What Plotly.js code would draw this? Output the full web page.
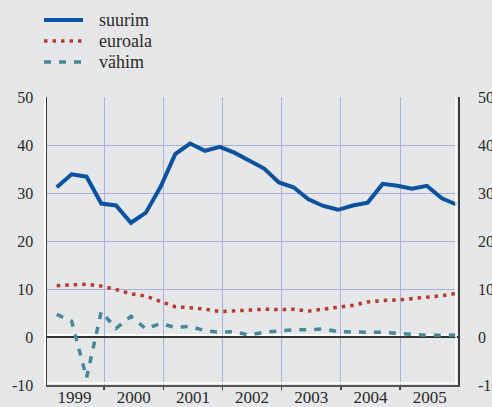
<!DOCTYPE html>
<html>
<head>
<meta charset="utf-8">
<script src="https://cdn.plot.ly/plotly-3.0.1.min.js"></script>
<style>
html,body{margin:0;padding:0;background:#e6e7e8;}
#chart{width:492px;height:407px;}
</style>
</head>
<body>
<div id="chart"></div>
<script>
// Quarterly observations 1999 Q1 .. 2005 Q4
const quarters = [
  "1999-03-15","1999-06-15","1999-09-15","1999-12-15",
  "2000-03-15","2000-06-15","2000-09-15","2000-12-15",
  "2001-03-15","2001-06-15","2001-09-15","2001-12-15",
  "2002-03-15","2002-06-15","2002-09-15","2002-12-15",
  "2003-03-15","2003-06-15","2003-09-15","2003-12-15",
  "2004-03-15","2004-06-15","2004-09-15","2004-12-15",
  "2005-03-15","2005-06-15","2005-09-15","2005-12-15"
];
const seriesNames = ["suurim", "euroala", "vähim"];
const suurim = [31.2, 33.9, 33.4, 27.8, 27.4, 23.8, 25.9, 31.3,
                38.1, 40.3, 38.8, 39.6, 38.4, 36.7, 35.1, 32.2,
                31.2, 28.7, 27.3, 26.5, 27.4, 28.0, 31.9, 31.5,
                30.9, 31.5, 28.9, 27.6];
const euroala = [10.7, 10.8, 11.0, 10.6, 9.9, 9.0, 8.5, 7.4,
                 6.3, 6.1, 5.8, 5.3, 5.4, 5.6, 5.8, 5.7,
                 5.8, 5.4, 5.8, 6.2, 6.6, 7.3, 7.6, 7.7,
                 8.0, 8.3, 8.6, 9.1];
const vahim = [4.7, 3.3, -8.5, 5.3, 1.8, 4.3, 1.7, 2.8,
               2.0, 2.2, 1.3, 1.0, 1.1, 0.4, 1.0, 1.3,
               1.5, 1.5, 1.7, 1.1, 1.0, 1.0, 1.0, 0.8,
               0.6, 0.35, 0.35, 0.4];
const yTicks = [-10, 0, 10, 20, 30, 40, 50];

const FONT = "Liberation Serif";
const TEXT = "#2a2a2a";
const GRID = "#a7b1dc";
const colors = ["#0b53a0", "#bb3a30", "#47899a"];
const widths = [4, 3.5, 3.5];
const dashes = ["solid", "3.5px,5px", "7px,8px"];

const traces = seriesNames.map((n, k) => ({
  x: quarters, y: [suurim, euroala, vahim][k], name: n,
  type: "scatter", mode: "lines", showlegend: false,
  line: {color: colors[k], width: widths[k], dash: dashes[k]}
}));

// hand-placed legend
const legendRowsY = [1.2674, 1.1944, 1.1215];
const legendShapes = seriesNames.map((n, k) => ({
  type: "line", xref: "paper", yref: "paper",
  x0: -0.0073, x1: 0.0876, y0: legendRowsY[k], y1: legendRowsY[k],
  line: {color: colors[k], width: widths[k], dash: dashes[k]}
}));
const legendTexts = seriesNames.map((n, k) => ({
  xref: "paper", yref: "paper", x: 0.1217, y: legendRowsY[k],
  xanchor: "left", yanchor: "middle", showarrow: false, text: n,
  font: {family: FONT, size: 18, color: TEXT}
}));
// right-hand copy of the value axis labels
const rightLabels = yTicks.map(v => ({
  xref: "paper", yref: "y", x: 1, y: v, xshift: 18,
  xanchor: "left", yanchor: "middle", showarrow: false, text: String(v),
  font: {family: FONT, size: 16, color: TEXT}
}));

const layout = {
  width: 492, height: 407,
  margin: {l: 47, r: 34, t: 97, b: 22, pad: 0},
  paper_bgcolor: "#e6e7e8",
  plot_bgcolor: "#e6e7e8",
  font: {family: FONT, size: 16, color: TEXT},
  showlegend: false,
  xaxis: {
    type: "date",
    range: ["1999-01-14", "2005-12-24"],
    tick0: "1999-01-01", dtick: "M12",
    ticklabelmode: "period", tickformat: "%Y",
    showgrid: true, gridcolor: GRID, gridwidth: 1, griddash: "solid",
    ticks: "outside", ticklen: 3, tickcolor: "#444", tickwidth: 1.5,
    showline: true, linecolor: "#555", linewidth: 1.5,
    ticklabelstandoff: -7,
    tickfont: {family: FONT, size: 17, color: TEXT},
    zeroline: false, fixedrange: true
  },
  yaxis: {
    range: [-10, 50], tickvals: yTicks, ticktext: yTicks.map(String),
    showgrid: true, gridcolor: GRID, gridwidth: 1, griddash: "solid",
    zeroline: true, zerolinecolor: "#333", zerolinewidth: 1.5,
    showline: true, mirror: true, linecolor: "#3a3a3a", linewidth: 1.5,
    ticks: "", ticklabelstandoff: 9,
    tickfont: {family: FONT, size: 16, color: TEXT},
    fixedrange: true
  },
  shapes: [
    // white highlights beside the dark axis and zero lines
    {type: "line", xref: "paper", x0: 0, x1: 1, yref: "y",
     ysizemode: "pixel", yanchor: 0, y0: 2, y1: 2,
     line: {color: "#ffffff", width: 2}, layer: "between"},
    {type: "line", xref: "paper", x0: 0, x1: 1, yref: "paper",
     ysizemode: "pixel", yanchor: 0, y0: 2, y1: 2,
     line: {color: "#ffffff", width: 1.5}, layer: "above"},
    {type: "line", yref: "paper", y0: 0, y1: 1, xref: "paper",
     xsizemode: "pixel", xanchor: 0, x0: -2, x1: -2,
     line: {color: "#ffffff", width: 2}, layer: "above"},
    {type: "line", yref: "paper", y0: 0, y1: 1, xref: "paper",
     xsizemode: "pixel", xanchor: 1, x0: -2, x1: -2,
     line: {color: "#ffffff", width: 1.5}, layer: "above"}
  ].concat(legendShapes),
  annotations: legendTexts.concat(rightLabels)
};

Plotly.newPlot("chart", traces, layout, {displayModeBar: false, staticPlot: true});
</script>
</body>
</html>
